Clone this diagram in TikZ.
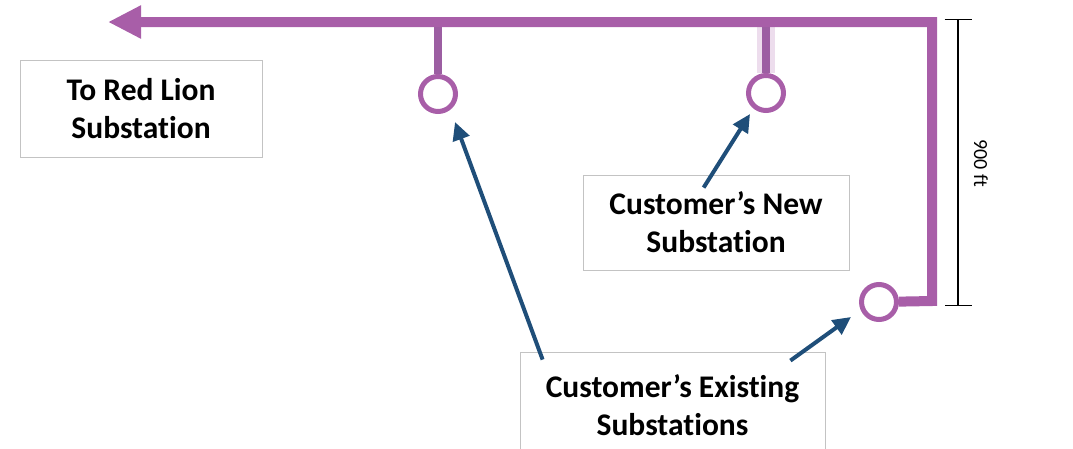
\documentclass[tikz,border=0pt]{standalone}
\usepackage{fontspec}
\setmainfont{Carlito}[Ligatures={NoCommon}]
\usetikzlibrary{arrows.meta,positioning,calc}
\definecolor{feed}{RGB}{168,94,168}
\definecolor{stubc}{RGB}{156,94,162}
\definecolor{callout}{RGB}{31,78,121}
\definecolor{boxline}{RGB}{195,195,195}

\begin{document}
\begin{tikzpicture}[x=1pt, y=-1pt,
    label/.style={rectangle, draw=boxline, line width=0.8pt, align=center, font=\fontsize{31.5}{38}\selectfont\bfseries},
    sub/.style={circle, draw=feed, line width=5pt, fill=white, minimum size=35pt, inner sep=0pt},
    feeder/.style={draw=feed, line width=10pt, line join=miter},
    stub/.style={draw=stubc, line width=8pt},
    pointer/.style={draw=callout, line width=4pt, -{Triangle[length=18pt, width=17pt]}},
    >=Stealth
]
    \clip (0,0) rectangle (1073,448);
    \useasboundingbox (0,0) rectangle (1073,448);

    % Substations
    \node[sub] (exA) at (438, 94) {};
    \node[sub] (newS) at (766, 93) {};
    \node[sub] (exB) at (879, 302) {};

    % Feeder
    \coordinate (corner) at (932, 301);
    \coordinate (tip) at (108, 22);
    \draw[feed!70, line width=18pt, opacity=0.3] (newS.north) -- (newS |- tip);
    \draw[stub] (exA.north) -- (exA |- tip);
    \draw[stub] (newS.north) -- (newS |- tip);
    \draw[feeder, -{Triangle[length=33pt, width=31pt]}] (exB) -- (corner) |- (tip);

    % Distance
    \coordinate (dimT) at (958, 19);
    \coordinate (dimB) at (958, 306);
    \draw[line width=1.4pt, {Bar[width=27pt]}-{Bar[width=27pt]}] (dimT) -- (dimB);
    \node[rotate=-90, font=\fontsize{20}{22}\selectfont] (dist) at (981, 163) {900 ft};

    % Labels
    \node[label, minimum width=242pt, minimum height=97pt] (redlion) at (141, 108.5) {To Red Lion\\Substation};
    \node[label, minimum width=266pt, minimum height=95pt] (newlbl) at (716, 222.5) {Customer’s New\\Substation};
    \node[label, minimum width=305pt, minimum height=106pt] (exlbl) at (672.5, 405) {Customer’s Existing\\Substations};

    % Pointers
    \coordinate (pA) at (455, 122);
    \coordinate (pN) at (750, 114);
    \coordinate (pB) at (851, 317);
    \draw[pointer] ($(exlbl.north west)+(23,8)$) -- (pA);
    \draw[pointer] ($(newlbl.north west)+(121,13)$) -- (pN);
    \draw[pointer] ($(exlbl.north east)+(-35,9)$) -- (pB);
\end{tikzpicture}
\end{document}
